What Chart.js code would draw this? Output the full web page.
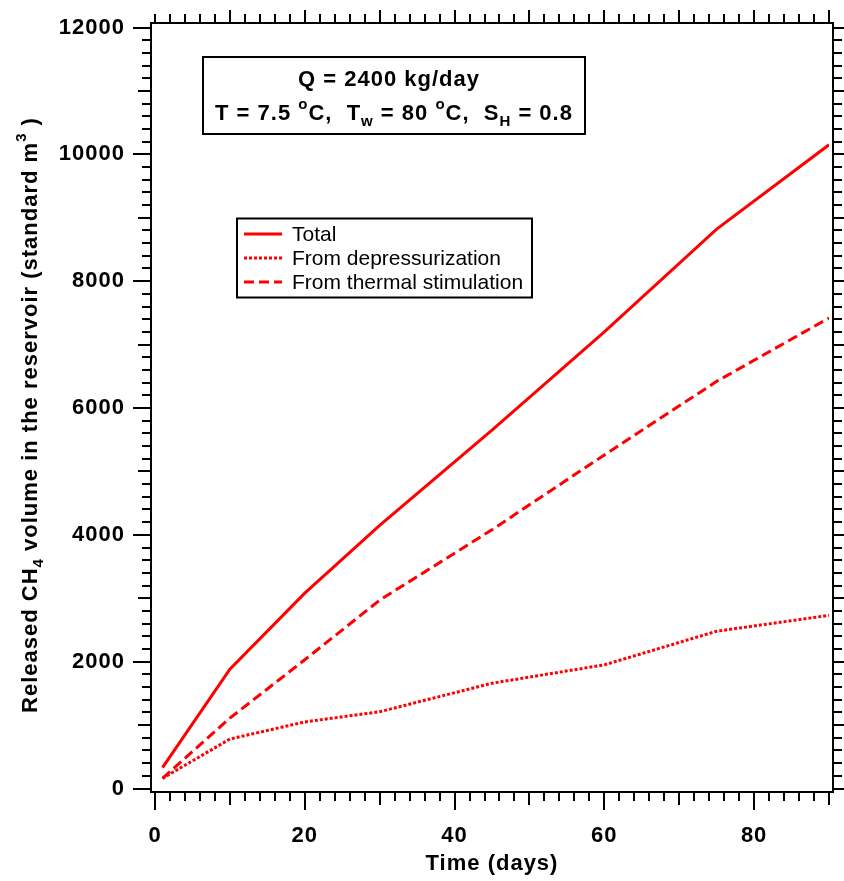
<!DOCTYPE html>
<html>
<head>
<meta charset="utf-8">
<script src="https://cdn.jsdelivr.net/npm/chart.js@4/dist/chart.umd.min.js"></script>
<style>
html,body{margin:0;padding:0;background:#fff;}
#wrap{width:844px;height:881px;position:relative;}
</style>
</head>
<body>
<div id="wrap"><canvas id="c" width="844" height="881"></canvas></div>
<script>
// ---- data ----
const days = [1, 10, 20, 30, 45, 60, 75, 90];
const totalVolume = [330, 1880, 3080, 4150, 5650, 7200, 8820, 10150];
const depressurizationVolume = [160, 780, 1050, 1210, 1660, 1950, 2480, 2730];
const thermalVolume = [160, 1110, 2030, 2970, 4080, 5260, 6420, 7420];
const seriesLabels = ['Total', 'From depressurization', 'From thermal stimulation'];
const xTickValues = [0, 20, 40, 60, 80];
const xTickLabels = ['0', '20', '40', '60', '80'];
const yTickValues = [0, 2000, 4000, 6000, 8000, 10000, 12000];
const yTickLabels = ['0', '2000', '4000', '6000', '8000', '10000', '12000'];
const xTitle = 'Time (days)';
const yTitleParts = [['Released CH', 'n'], ['4', 'sub'], [' volume in the reservoir (standard m', 'n'], ['3', 'sup'], [' )', 'n']];
const noteLine1 = 'Q = 2400 kg/day';
const noteLine2Parts = [['T = 7.5 ', 'n'], ['o', 'sup'], ['C,  T', 'n'], ['w', 'sub'], [' = 80 ', 'n'], ['o', 'sup'], ['C,  S', 'n'], ['H', 'sub'], [' = 0.8', 'n']];

const FONT = "'Liberation Sans', Arial, Helvetica, sans-serif";
const RED = '#ff0000';

function pts(ys) { return days.map((d, i) => ({x: d, y: ys[i]})); }

function drawParts(ctx, parts, x, y, size, subSize, weight) {
  let cx = x;
  for (const [t, kind] of parts) {
    const s = kind === 'n' ? size : subSize;
    ctx.font = weight + ' ' + s + 'px ' + FONT;
    let dy = 0;
    if (kind === 'sup') dy = -size * 0.5;
    if (kind === 'sub') dy = size * 0.28;
    ctx.fillText(t, cx, y + dy);
    cx += ctx.measureText(t).width;
  }
  return cx - x;
}
function measureParts(ctx, parts, size, subSize, weight) {
  let w = 0;
  for (const [t, kind] of parts) {
    const s = kind === 'n' ? size : subSize;
    ctx.font = weight + ' ' + s + 'px ' + FONT;
    w += ctx.measureText(t).width;
  }
  return w;
}

const spacingPlugin = {
  id: 'spacing',
  beforeDraw(chart) { chart.ctx.letterSpacing = '1px'; }
};

const framePlugin = {
  id: 'frame',
  afterDraw(chart) {
    const ctx = chart.ctx;
    const a = chart.chartArea;
    const xs = chart.scales.x, ys = chart.scales.y;
    const L = a.left - 4, R = a.right + 4, T = a.top - 4.5, B = a.bottom + 3.5;
    ctx.save();
    ctx.strokeStyle = '#000';
    ctx.lineWidth = 2;
    ctx.lineCap = 'butt';
    ctx.beginPath();
    ctx.moveTo(L, T - 1); ctx.lineTo(L, B + 1);
    ctx.moveTo(R, T - 1); ctx.lineTo(R, B + 1);
    ctx.moveTo(L - 1, T); ctx.lineTo(R + 1, T);
    ctx.moveTo(L - 1, B); ctx.lineTo(R + 1, B);
    ctx.stroke();
    ctx.beginPath();
    for (let v = xs.min; v <= xs.max + 1e-9; v += 2) {
      const px = Math.round(xs.getPixelForValue(v));
      const lenB = v % 20 === 0 ? 18 : (v % 10 === 0 ? 13 : 9);
      const lenT = (v % 10 === 0 && v !== 0) ? 13 : 9;
      ctx.moveTo(px, B); ctx.lineTo(px, B + lenB);
      ctx.moveTo(px, T); ctx.lineTo(px, T - lenT);
    }
    for (let v = ys.min; v <= ys.max + 1e-9; v += 200) {
      const py = Math.round(ys.getPixelForValue(v));
      const len = v % 2000 === 0 ? 18 : (v % 1000 === 0 ? 13 : 9);
      ctx.moveTo(L, py); ctx.lineTo(L - len, py);
      ctx.moveTo(R, py); ctx.lineTo(R + len, py);
    }
    ctx.stroke();

    ctx.fillStyle = '#000';
    ctx.textBaseline = 'alphabetic';
    ctx.textAlign = 'left';
    ctx.letterSpacing = '1px';
    const ySize = 22, ySub = 15;
    const w = measureParts(ctx, yTitleParts, ySize, ySub, 'bold');
    ctx.save();
    ctx.translate(37, (a.top + a.bottom) / 2 + 7);
    ctx.rotate(-Math.PI / 2);
    drawParts(ctx, yTitleParts, -w / 2, 0, ySize, ySub, 'bold');
    ctx.restore();

    ctx.strokeRect(203, 57, 382, 77);
    ctx.font = 'bold 22px ' + FONT;
    const w1 = ctx.measureText(noteLine1).width;
    ctx.fillText(noteLine1, 389 - w1 / 2, 86);
    const w2 = measureParts(ctx, noteLine2Parts, 22, 15, 'bold');
    drawParts(ctx, noteLine2Parts, 394 - w2 / 2, 120, 22, 15, 'bold');

    ctx.letterSpacing = '0px';
    ctx.strokeRect(237, 218.5, 295, 79);
    const rowY = [234, 258, 282];
    chart.data.datasets.forEach((ds, i) => {
      ctx.save();
      ctx.strokeStyle = ds.borderColor;
      ctx.lineWidth = ds.borderWidth;
      ctx.setLineDash(ds.borderDash || []);
      ctx.beginPath();
      ctx.moveTo(244, rowY[i]); ctx.lineTo(282, rowY[i]);
      ctx.stroke();
      ctx.restore();
      ctx.fillStyle = '#000';
      ctx.font = '21px ' + FONT;
      ctx.textBaseline = 'middle';
      ctx.fillText(ds.label, 292, rowY[i] + 1);
    });
    ctx.restore();
  }
};

const tickFont = {family: FONT, size: 22, weight: 'bold'};

new Chart(document.getElementById('c'), {
  type: 'line',
  data: {
    datasets: [
      {label: seriesLabels[0], data: pts(totalVolume), borderColor: RED, borderWidth: 3, borderDash: []},
      {label: seriesLabels[1], data: pts(depressurizationVolume), borderColor: RED, borderWidth: 3, borderDash: [3, 2]},
      {label: seriesLabels[2], data: pts(thermalVolume), borderColor: RED, borderWidth: 3, borderDash: [10, 5]}
    ]
  },
  options: {
    responsive: false,
    animation: false,
    devicePixelRatio: 1,
    layout: {padding: {top: 27.5, right: 15, left: 0, bottom: 0}},
    elements: {point: {radius: 0}, line: {tension: 0, fill: false}},
    plugins: {legend: {display: false}, tooltip: {enabled: false}},
    scales: {
      x: {
        type: 'linear', position: 'bottom', min: 0, max: 90,
        afterBuildTicks: s => { s.ticks = xTickValues.map(v => ({value: v})); },
        afterFit: s => { s.height = 92.5; },
        ticks: {
          callback: v => { const i = xTickValues.indexOf(v); return i >= 0 ? xTickLabels[i] : ''; },
          font: tickFont, color: '#000', padding: 0, maxRotation: 0, autoSkip: false
        },
        grid: {display: false, drawTicks: true, tickLength: 34},
        border: {display: false},
        title: {display: true, text: xTitle, font: tickFont, color: '#000', padding: {top: 0, bottom: 4}}
      },
      y: {
        type: 'linear', position: 'left', min: 0, max: 12000,
        afterBuildTicks: s => { s.ticks = yTickValues.map(v => ({value: v})); },
        afterFit: s => { s.width = 155; },
        ticks: {
          callback: v => { const i = yTickValues.indexOf(v); return i >= 0 ? yTickLabels[i] : ''; },
          font: tickFont, color: '#000', padding: 0, autoSkip: false
        },
        grid: {display: false, drawTicks: true, tickLength: 30},
        border: {display: false}
      }
    }
  },
  plugins: [spacingPlugin, framePlugin]
});
</script>
</body>
</html>
